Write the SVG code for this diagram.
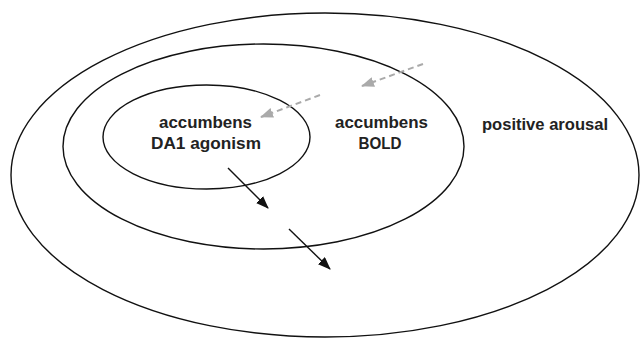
<svg xmlns="http://www.w3.org/2000/svg" width="640" height="338" viewBox="0 0 640 338">
  <style>
    .ring { fill: none; stroke: #111; stroke-width: 1.4; }
    .label { font-family: "Liberation Sans", Arial, sans-serif; font-weight: bold; font-size: 16.5px; fill: #222; text-anchor: middle; }
    .flow { stroke: #111; stroke-width: 1.4; fill: none; }
    .feedback { stroke: #aaa; stroke-width: 2; stroke-dasharray: 6 4; fill: none; }
  </style>
  <defs>
    <marker id="headBlack" viewBox="0 0 13 10" refX="12" refY="5" markerWidth="13" markerHeight="10" markerUnits="userSpaceOnUse" orient="auto">
      <path d="M0,0 L13,5 L0,10 Z" fill="#111"/>
    </marker>
    <marker id="headGray" viewBox="0 0 13 10" refX="12" refY="5" markerWidth="13" markerHeight="10" markerUnits="userSpaceOnUse" orient="auto">
      <path d="M0,0 L13,5 L0,10 Z" fill="#aaa"/>
    </marker>
  </defs>
  <rect width="640" height="338" fill="#fff"/>

  <g id="positive-arousal">
    <ellipse class="ring" cx="325" cy="175" rx="314" ry="162"/>
    <text class="label" x="545" y="130" textLength="126" lengthAdjust="spacingAndGlyphs">positive arousal</text>
  </g>

  <g id="accumbens-bold">
    <ellipse class="ring" cx="263.5" cy="146.5" rx="200.5" ry="102.5"/>
    <text class="label" x="381.5" y="128" textLength="93" lengthAdjust="spacingAndGlyphs">accumbens</text>
    <text class="label" x="380" y="149" textLength="43" lengthAdjust="spacingAndGlyphs">BOLD</text>
  </g>

  <g id="accumbens-da1">
    <ellipse class="ring" cx="206.5" cy="137" rx="103.5" ry="52"/>
    <text class="label" x="205.5" y="128" textLength="93" lengthAdjust="spacingAndGlyphs">accumbens</text>
    <text class="label" x="206" y="149" textLength="110" lengthAdjust="spacingAndGlyphs">DA1 agonism</text>
  </g>

  <g id="connectors">
    <line class="flow" x1="228" y1="168" x2="268" y2="208" marker-end="url(#headBlack)"/>
    <line class="flow" x1="289" y1="229" x2="330" y2="269" marker-end="url(#headBlack)"/>
    <line class="feedback" x1="423" y1="64" x2="362" y2="86" marker-end="url(#headGray)"/>
    <line class="feedback" x1="320" y1="95" x2="261" y2="117" marker-end="url(#headGray)"/>
  </g>
</svg>
